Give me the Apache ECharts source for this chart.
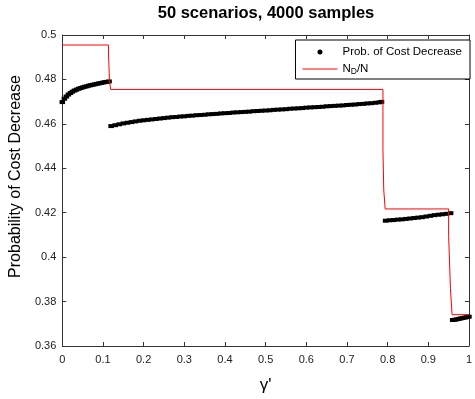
<!DOCTYPE html>
<html>
<head>
<meta charset="utf-8">
<script src="https://cdn.jsdelivr.net/npm/echarts@6/dist/echarts.min.js"></script>
<style>
html,body{margin:0;padding:0;background:#fff;}
#chart{width:475px;height:399px;}
</style>
</head>
<body>
<div id="chart"></div>
<script>
// ---- Data ----
var titleText = '50 scenarios, 4000 samples';
var xTickLabels = ['0','0.1','0.2','0.3','0.4','0.5','0.6','0.7','0.8','0.9','1'];
var yTickLabels = ['0.36','0.38','0.4','0.42','0.44','0.46','0.48','0.5'];

// Prob. of Cost Decrease, segment 1
var seg1X = [0,0.005,0.01,0.015,0.02,0.025,0.03,0.035,0.04,0.045,0.05,0.055,0.06,0.065,0.07,0.075,0.08,0.085,0.09,0.095,0.1,0.105,0.11,0.115];
var seg1Y = [0.4698,0.4713,0.4723,0.4732,0.4739,0.4745,0.4750,0.4754,0.4758,0.4761,0.4764,0.4767,0.4769,0.4772,0.4774,0.4776,0.4778,0.4780,0.4782,0.4784,0.4786,0.4788,0.4789,0.4791];
// segment 2
var seg2X = [0.12,0.13,0.14,0.15,0.16,0.17,0.18,0.19,0.20,0.21,0.22,0.23,0.24,0.25,0.26,0.27,0.28,0.29,0.30,0.31,0.32,0.33,0.34,0.35,0.36,0.37,0.38,0.39,0.40,0.41,0.42,0.43,0.44,0.45,0.46,0.47,0.48,0.49,0.50,0.51,0.52,0.53,0.54,0.55,0.56,0.57,0.58,0.59,0.60,0.61,0.62,0.63,0.64,0.65,0.66,0.67,0.68,0.69,0.70,0.71,0.72,0.73,0.74,0.75,0.76,0.77,0.78,0.785];
var seg2Y = [0.4590,0.4594,0.4598,0.4602,0.4605,0.4608,0.4611,0.4614,0.4616,0.4618,0.4620,0.4622,0.4624,0.4626,0.4628,0.4630,0.4631,0.4633,0.4634,0.4636,0.4637,0.4639,0.4640,0.4641,0.4643,0.4644,0.4645,0.4647,0.4648,0.4649,0.4651,0.4652,0.4653,0.4654,0.4655,0.4657,0.4658,0.4659,0.4660,0.4661,0.4663,0.4664,0.4665,0.4666,0.4668,0.4669,0.4670,0.4671,0.4673,0.4674,0.4675,0.4676,0.4677,0.4679,0.4680,0.4681,0.4682,0.4683,0.4685,0.4686,0.4687,0.4689,0.4690,0.4692,0.4693,0.4695,0.4697,0.4699];
// segment 3
var seg3X = [0.795,0.805,0.815,0.825,0.835,0.845,0.855,0.865,0.875,0.885,0.895,0.905,0.915,0.925,0.935,0.945,0.955];
var seg3Y = [0.4164,0.4166,0.4167,0.4169,0.4170,0.4172,0.4174,0.4176,0.4178,0.4180,0.4183,0.4186,0.4189,0.4191,0.4193,0.4195,0.4198];
// segment 4
var seg4X = [0.96,0.965,0.97,0.975,0.98,0.985,0.99,0.995,1.0];
var seg4Y = [0.3717,0.3718,0.3720,0.3722,0.3724,0.3726,0.3728,0.3730,0.3732];

// N_D/N step line
var ndX = [0,0.1135,0.1135,0.116,0.116,0.119,0.119,0.7885,0.7885,0.7905,0.7905,0.794,0.794,0.950,0.950,0.9545,0.9545,0.9585,0.9585,1];
var ndY = [0.4955,0.4955,0.4919,0.4919,0.4794,0.4794,0.4755,0.4755,0.4485,0.4485,0.4302,0.4302,0.4217,0.4217,0.4098,0.4098,0.3859,0.3859,0.3741,0.3741];

// ---- Build ----
function pairs(xs, ys){ var out=[]; for(var i=0;i<xs.length;i++){ out.push([xs[i], ys[i]]); } return out; }
var probData = pairs(seg1X,seg1Y).concat(pairs(seg2X,seg2Y), pairs(seg3X,seg3Y), pairs(seg4X,seg4Y));
var ndData = pairs(ndX, ndY);

var FONT = '"Liberation Sans", Arial, Helvetica, sans-serif';
var chart = echarts.init(document.getElementById('chart'), null, {renderer:'canvas'});

function axisCommon(extra){
  var base = {
    axisLine:{show:true, onZero:false, lineStyle:{color:'#333', width:1}},
    axisTick:{show:true, inside:true, length:4, lineStyle:{color:'#333', width:1}},
    splitLine:{show:false}
  };
  for (var k in extra) base[k] = extra[k];
  return base;
}

var option = {
  animation:false,
  backgroundColor:'#fff',
  title:{
    text:titleText, left:266, top:5, padding:0, textAlign:'center',
    textStyle:{fontFamily:FONT, fontSize:16.5, fontWeight:'bold', color:'#000'}
  },
  legend:{
    orient:'vertical', right:5, top:40,
    backgroundColor:'#fff', borderColor:'#000', borderWidth:1, borderRadius:0,
    padding:[6,8,3,7], itemGap:5, itemWidth:35, itemHeight:5,
    textStyle:{fontFamily:FONT, fontSize:11.5, color:'#000',
      rich:{
        n:{fontFamily:FONT, fontSize:11.5, lineHeight:14, color:'#000'},
        d:{fontFamily:FONT, fontSize:8.5, lineHeight:8, verticalAlign:'bottom', color:'#000'}
      }
    },
    formatter:function(name){ return name === 'ND/N' ? '{n|N}{d|D}{n|/N}' : name; },
    data:[{name:'Prob. of Cost Decrease', icon:'circle', itemStyle:{color:'#000', opacity:1}},
          {name:'ND/N', icon:'path://M0,0H35V1H0Z', itemStyle:{color:'#ff0000'}}]
  },
  grid:{left:61, right:3, top:35, bottom:47, containLabel:false},
  xAxis:[
    axisCommon({type:'value', min:0, max:1, interval:0.1, position:'bottom',
      name:"γ'", nameLocation:'middle', nameGap:31,
      nameTextStyle:{fontFamily:FONT, fontSize:17, color:'#000'},
      axisLabel:{fontFamily:FONT, fontSize:11, color:'#222', margin:8,
        formatter:function(v){ var i=Math.round(v*10); return xTickLabels[i]; }}}),
    axisCommon({type:'value', min:0, max:1, interval:0.1, position:'top', axisLabel:{show:false}})
  ],
  yAxis:[
    axisCommon({type:'value', min:0.36, max:0.5, interval:0.02, position:'left',
      name:'Probability of Cost Decrease', nameLocation:'middle', nameGap:32,
      nameTextStyle:{fontFamily:FONT, fontSize:16, color:'#000', padding:[0,0,0,28]},
      axisLabel:{fontFamily:FONT, fontSize:11, color:'#222', margin:6,
        formatter:function(v){ var i=Math.round((v-0.36)/0.02); return yTickLabels[i]; }}}),
    axisCommon({type:'value', min:0.36, max:0.5, interval:0.02, position:'right', axisLabel:{show:false}})
  ],
  series:[
    {name:'Prob. of Cost Decrease', type:'scatter', xAxisIndex:0, yAxisIndex:0,
     symbol:'rect', symbolSize:[5.5,4], itemStyle:{color:'#000', opacity:1}, data:probData, z:2},
    {name:'ND/N', type:'line', xAxisIndex:0, yAxisIndex:0, symbol:'none', showSymbol:false,
     lineStyle:{color:'#ff0000', width:1}, itemStyle:{color:'#ff0000'}, data:ndData, z:3}
  ]
};
chart.setOption(option);
</script>
</body>
</html>
